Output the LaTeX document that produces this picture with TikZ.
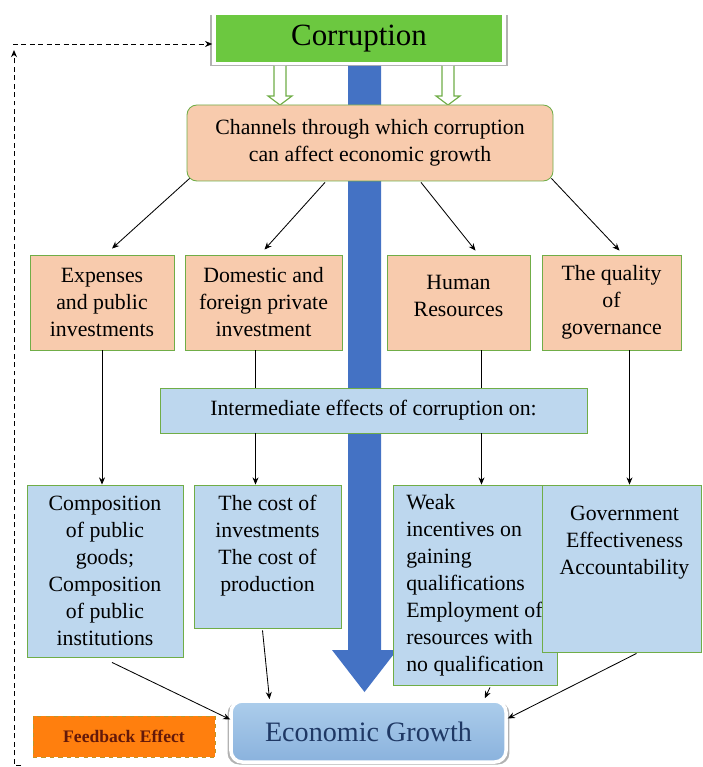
\documentclass[tikz,border=0pt]{standalone}
\usepackage{fontspec}
\setmainfont{Liberation Serif}
\usetikzlibrary{arrows.meta,positioning,calc,shadows}
\definecolor{corrgreen}{RGB}{108,200,64}
\definecolor{peach}{RGB}{248,203,173}
\definecolor{paleblue}{RGB}{189,215,238}
\definecolor{boxedge}{RGB}{112,173,71}
\definecolor{bigblue}{RGB}{68,114,196}
\definecolor{econtop}{RGB}{172,205,235}
\definecolor{econbot}{RGB}{138,178,221}
\definecolor{econtext}{RGB}{31,56,100}
\definecolor{fborange}{RGB}{255,127,14}
\definecolor{fbedge}{RGB}{190,150,40}
\definecolor{fbtext}{RGB}{100,25,10}
\newlength{\pxu}
\setlength{\pxu}{0.025cm}

\begin{document}
\begin{tikzpicture}[x=0.025cm,y=-0.025cm,
  >={Stealth[length=1.8mm,width=1.5mm]},
  txt/.style={font=\fontsize{15.5}{19.2}\selectfont, align=center, inner sep=2pt},
  chbox/.style={txt, draw=boxedge, fill=peach, line width=0.6pt},
  efbox/.style={txt, draw=boxedge, fill=paleblue, line width=0.6pt},
  glow/.style={draw=white, line width=2.5pt, general shadow={fill=black, opacity=0.3, shadow scale=1.025, shadow yshift=-1.2pt}},
  ln/.style={black, line width=0.6pt},
  hollow/.style={draw=boxedge, fill=white, line width=0.8pt},
  fb/.style={black, line width=0.7pt, dash pattern=on 3.5pt off 2.5pt},
]
\useasboundingbox (0,0) rectangle (702,767);
% top
\node[glow, fill=corrgreen, minimum width=290\pxu, minimum height=50\pxu, font=\fontsize{22}{26}\selectfont] (corr) at (359,38.5) {Corruption};
\fill[bigblue] (348,66) -- (348,650) -- (332,650) -- (364.5,692) -- (397,650) -- (381,650) -- (381,66) -- cycle;
\foreach \hx in {280,448}
  \draw[hollow] (\hx-6,66) -- (\hx-6,96) -- (\hx-12,96) -- (\hx,105) -- (\hx+12,96) -- (\hx+6,96) -- (\hx+6,66);
\node[chbox, rounded corners=7pt, minimum width=366\pxu, minimum height=76\pxu] (chan) at (370,143) {Channels through which corruption\\can affect economic growth};
% channels
\node[chbox, minimum width=144\pxu, minimum height=95\pxu] (exp) at (102,302.5) {Expenses\\and public\\investments};
\node[chbox, minimum width=157\pxu, minimum height=95\pxu] (dom) at (263.5,302.5) {Domestic and\\foreign private\\investment};
\node[chbox, minimum width=143\pxu, minimum height=95\pxu, label={[txt,yshift=7\pxu]center:Human\\Resources}] (hum) at (458.5,302.5) {};
\node[chbox, minimum width=139\pxu, minimum height=95\pxu] (qual) at (611.5,302.5) {The quality\\of\\governance};
\node[efbox, minimum width=427\pxu, minimum height=45\pxu] (inter) at (373.5,410.5) {Intermediate effects of corruption on:};
% effects
\node[efbox, minimum width=156\pxu, minimum height=172\pxu] (comp) at (105,571) {Composition\\of public\\goods;\\Composition\\of public\\institutions};
\node[efbox, minimum width=147\pxu, minimum height=143\pxu, label={[txt,yshift=11\pxu]center:The cost of\\investments\\The cost of\\production}] (cost) at (267.5,556.5) {};
\node[efbox, align=left, minimum width=164\pxu, minimum height=200\pxu] (weak) at (475,585) {Weak\\incentives on\\gaining\\qualifications\\Employment of\\resources with\\no qualification};
\node[efbox, minimum width=159\pxu, minimum height=167\pxu, label={[txt,xshift=3\pxu,yshift=26\pxu]center:Government\\Effectiveness\\Accountability}] (gov) at (621.5,568.5) {};
% bottom
\node[glow, rounded corners=8pt, top color=econtop, bottom color=econbot, minimum width=275\pxu, minimum height=61\pxu, text=econtext, font=\fontsize{20}{24}\selectfont] (econ) at (368.5,731.5) {Economic Growth};
\node[draw=fbedge, dashed, fill=fborange, minimum width=182\pxu, minimum height=41\pxu, text=fbtext, font=\bfseries\fontsize{12.5}{15}\selectfont] (fbk) at (124,736.5) {Feedback Effect};
% arrows from the channels box
\draw[ln,->] ($(chan.south west)+(3,-3)$) -- ($(exp.north)+(10,-6)$);
\draw[ln,->] ($(chan.south)+(-45,1)$) -- ($(dom.north)+(1,-5)$);
\draw[ln,->] ($(chan.south)+(51,1)$) -- ($(hum.north)+(17,-4)$);
\draw[ln,->] ($(chan.south east)+(-2,-3)$) -- ($(qual.north)+(8,-4)$);
% down to the effects
\draw[ln,->] (exp.south) -- (exp.south |- comp.north);
\coordinate (dx) at ($(dom.south)+(-8,0)$);
\draw[ln] (dx) -- (dx |- inter.north);
\draw[ln,->] (dx |- inter.south) -- (dx |- cost.north);
\coordinate (hx) at ($(hum.south)+(23,0)$);
\draw[ln] (hx) -- (hx |- inter.north);
\draw[ln,->] (hx |- inter.south) -- (hx |- weak.north);
\coordinate (qx) at ($(qual.south)+(18,0)$);
\draw[ln,->] (qx) -- (qx |- gov.north);
% into economic growth
\draw[ln,->] ($(comp.south)+(7,5)$) -- ($(econ.west)+(1,-12)$);
\draw[ln,->] ($(cost.south)+(-5,2)$) -- ($(econ.north)+(-99,0)$);
\draw[ln,->] ($(weak.south)+(15,2)$) -- ($(econ.north east)+(-23,-1)$);
\draw[ln,->] ($(gov.south)+(15,1)$) -- ($(econ.east)+(0,-13)$);
% feedback loop
\coordinate (fbbot) at (21,765);
\coordinate (fbtop) at (14,50);
\coordinate (fbcorner) at (13,44);
\draw[fb,->] (fbbot) -- (fbbot -| fbtop) -- (fbtop);
\draw[fb,->] (fbcorner) -- (fbcorner -| corr.west);
\end{tikzpicture}
\end{document}
